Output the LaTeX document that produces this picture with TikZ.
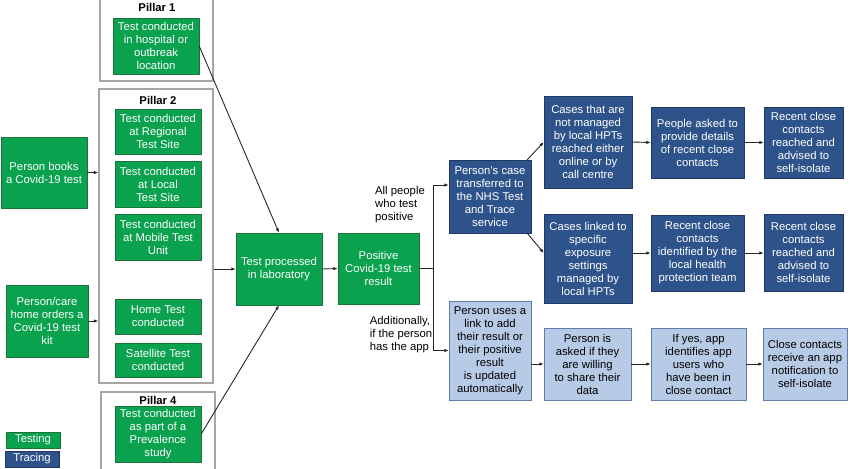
\documentclass[tikz,border=0pt]{standalone}
\usepackage{fontspec}
\setmainfont{Liberation Sans}
\usetikzlibrary{positioning, arrows.meta}
\definecolor{testgreen}{RGB}{10,162,78}
\definecolor{testedge}{RGB}{28,115,58}
\definecolor{tracenavy}{RGB}{46,83,138}
\definecolor{traceedge}{RGB}{31,56,100}
\definecolor{applight}{RGB}{184,203,230}
\definecolor{appedge}{RGB}{96,124,170}
\tikzset{
	every node/.style={font=\fontsize{11.3}{13}\selectfont, inner sep=2pt},
	testbox/.style={draw=testedge, fill=testgreen, text=white, align=center},
	tracebox/.style={draw=traceedge, fill=tracenavy, text=white, align=center},
	appbox/.style={draw=appedge, fill=applight, text=black, align=center},
	pillarframe/.style={draw=gray!70, line width=1.2pt},
	pillarlabel/.style={font=\fontsize{11.3}{13}\selectfont\bfseries},
	every edge/.style={draw,->},
	flow/.style={draw=black!85, line width=0.9pt, -{Latex[length=4.5pt,width=3.5pt]}}
}

\begin{document}
\begin{tikzpicture}[x=1pt, y=-1pt]
\useasboundingbox (0,0) rectangle (850,468);
% pillar frames
\node (pillar1) [pillarframe, minimum width=113pt, minimum height=82pt] at (156.5,40) {};
\node (pillar2) [pillarframe, minimum width=114pt, minimum height=294pt] at (156,236) {};
\node (pillar4) [pillarframe, minimum width=114pt, minimum height=84pt] at (158,434) {};
\node (lab1) [pillarlabel] at (157,7) {Pillar 1};
\node (lab2) [pillarlabel] at (158,100) {Pillar 2};
\node (lab4) [pillarlabel] at (158,400) {Pillar 4};
% testing
\node (hospital) [testbox, minimum width=86pt, minimum height=56pt] at (156,46) {Test conducted\\in hospital or\\outbreak\\location};
\node (regional) [testbox, minimum width=86pt, minimum height=45pt] at (158,131.5) {Test conducted\\at Regional\\Test Site};
\node (local) [testbox, minimum width=86pt, minimum height=46pt] at (158,184) {Test conducted\\at Local\\Test Site};
\node (mobile) [testbox, minimum width=86pt, minimum height=46pt] at (158,237) {Test conducted\\at Mobile Test\\Unit};
\node (home) [testbox, minimum width=86pt, minimum height=35pt] at (158,316.5) {Home Test\\conducted};
\node (satellite) [testbox, minimum width=86pt, minimum height=34pt] at (158,360) {Satellite Test\\conducted};
\node (prevalence) [testbox, minimum width=86pt, minimum height=56pt] at (158,434) {Test conducted\\as part of a\\Prevalence\\study};
\node (books) [testbox, minimum width=86pt, minimum height=71pt] at (44,172.5) {Person books\\a Covid-19 test};
\node (orders) [testbox, minimum width=82pt, minimum height=72pt] at (47,321) {Person/care\\home orders a\\Covid-19 test\\kit};
\node (processed) [testbox, minimum width=86pt, minimum height=72pt] at (279,269) {Test processed\\in laboratory};
\node (positive) [testbox, minimum width=81pt, minimum height=71pt] at (378.5,268.5) {Positive\\Covid-19 test\\result};
\coordinate (split) at (433,268.5);
\node (allpeople) [align=left] at (400,205) {All people\\who test\\positive};
\node (additionally) [align=left] at (401,335) {Additionally,\\if the person\\has the app};
% tracing
\node (transfer) [tracebox, minimum width=82pt, minimum height=73pt] at (490,196.5) {Person's case\\transferred to\\the NHS Test\\and Trace\\service};
\node (notlocal) [tracebox, minimum width=88pt, minimum height=92pt] at (588,142) {Cases that are\\not managed\\by local HPTs\\reached either\\online or by\\call centre};
\node (asked) [tracebox, minimum width=93pt, minimum height=71pt] at (697.5,142.5) {People asked to\\provide details\\of recent close\\contacts};
\node (reachedA) [tracebox, minimum width=79pt, minimum height=71pt] at (803.5,142.5) {Recent close\\contacts\\reached and\\advised to\\self-isolate};
\node (linked) [tracebox, minimum width=88pt, minimum height=89pt] at (588,258.5) {Cases linked to\\specific\\exposure\\settings\\managed by\\local HPTs};
\node (identified) [tracebox, minimum width=93pt, minimum height=76pt] at (697.5,253) {Recent close\\contacts\\identified by the\\local health\\protection team};
\node (reachedB) [tracebox, minimum width=79pt, minimum height=77pt] at (803.5,252.5) {Recent close\\contacts\\reached and\\advised to\\self-isolate};
% app
\node (link) [appbox, minimum width=82pt, minimum height=99pt] at (490,350.5) {Person uses a\\link to add\\their result or\\their positive\\result\\is updated\\automatically};
\node (willing) [appbox, minimum width=87pt, minimum height=72pt] at (587.5,364) {Person is\\asked if they\\are willing\\to share their\\data};
\node (ifyes) [appbox, minimum width=95pt, minimum height=72pt] at (698.5,364) {If yes, app\\identifies app\\users who\\have been in\\close contact};
\node (notify) [appbox, minimum width=84pt, minimum height=72pt] at (805,364) {Close contacts\\receive an app\\notification to\\self-isolate};
% legend
\node (keytest) [testbox, minimum width=54pt, minimum height=16pt] at (33,440) {Testing};
\node (keytrace) [tracebox, minimum width=54pt, minimum height=16pt] at (32,459) {Tracing};
% connectors
\draw[flow] (books.east) -- (books.east -| pillar2.west);
\draw[flow] (orders.east) -- (orders.east -| pillar2.west);
\draw[flow] (processed.west -| pillar2.east) -- (processed.west);
\draw[flow] (hospital.east) -- (processed.north);
\draw[flow] (prevalence.east) -- (processed.south);
\draw[flow] (processed.east) -- (positive.west);
\draw[draw=black!85, line width=0.9pt] (positive.east) -- (split);
\draw[flow] (split) |- ([yshift=11.5pt]transfer.west);
\draw[flow] (split) |- (link.west);
\draw[flow] ([xshift=-4pt]transfer.north east) -- (notlocal.west);
\draw[flow] ([xshift=-4pt]transfer.south east) -- (linked.west |- identified.west);
\draw[flow] (notlocal.east) -- (asked.west);
\draw[flow] (asked.east) -- (reachedA.west);
\draw[flow] (linked.east |- identified.west) -- (identified.west);
\draw[flow] (identified.east) -- (identified.east -| reachedB.west);
\draw[flow] (link.east |- willing.west) -- (willing.west);
\draw[flow] (willing.east) -- (ifyes.west);
\draw[flow] (ifyes.east) -- (notify.west);
\end{tikzpicture}
\end{document}
